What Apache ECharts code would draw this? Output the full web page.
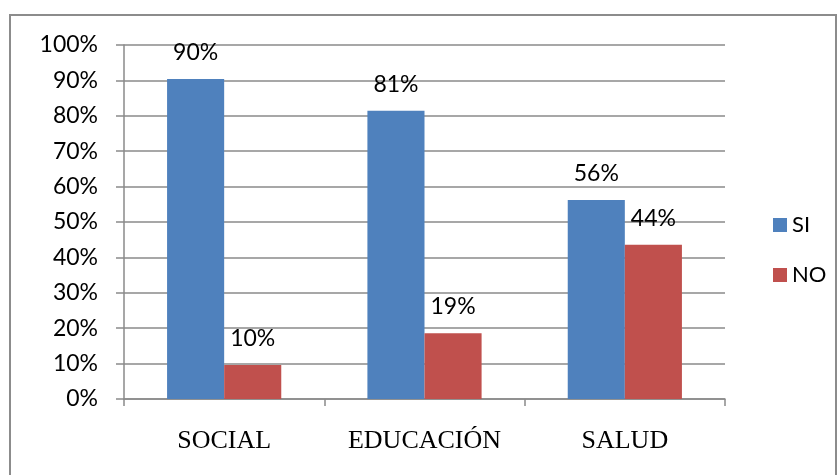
<!DOCTYPE html>
<html>
<head>
<meta charset="utf-8">
<script src="https://cdn.jsdelivr.net/npm/echarts@6/dist/echarts.min.js"></script>
<style>
html, body { margin: 0; padding: 0; background: #fff; }
#chart { width: 837px; height: 475px; }
</style>
</head>
<body>
<div id="chart"></div>
<script>
var categories = ['SOCIAL', 'EDUCACIÓN', 'SALUD'],
	siValues = [90.4, 81.4, 56.2],
	noValues = [9.6, 18.6, 43.6],
	seriesNames = ['SI', 'NO'];

var chart = echarts.init(document.querySelector('#chart')),
	sansFont = 'Lato, "Open Sans", sans-serif',
	lineGray = '#8a8a8a';

function pctLabel(p){
	return Math.round(p.value) + '%';
}

var option = {
	animation: false,
	graphic: [{
		type: 'rect',
		shape: { x: 10, y: 15, width: 826, height: 470 },
		style: { fill: 'none', stroke: '#8c8c8c', lineWidth: 2 }
	}],
	color: ['#4f81bd', '#c0504d'],
	grid: {
		left: 124,
		right: 112,
		top: 45,
		bottom: 76
	},
	legend: {
		orient: 'vertical',
		left: 768,
		top: 209,
		itemWidth: 14,
		itemHeight: 14,
		itemGap: 28,
		icon: 'rect',
		textStyle: { fontFamily: sansFont, fontSize: 22, color: '#000' },
		data: seriesNames
	},
	xAxis: {
		type: 'category',
		data: categories,
		axisLine: { lineStyle: { color: lineGray, width: 1.5 } },
		axisTick: { show: true, length: 7, lineStyle: { color: lineGray, width: 1.5 } },
		axisLabel: {
			margin: 29,
			fontFamily: '"Liberation Serif", "DejaVu Serif", serif',
			fontSize: 26,
			color: '#000'
		}
	},
	yAxis: {
		type: 'value',
		min: 0,
		max: 100,
		interval: 10,
		axisLine: { show: true, lineStyle: { color: lineGray, width: 1.5 } },
		axisTick: { show: true, length: 8, lineStyle: { color: lineGray, width: 1.5 } },
		splitLine: { lineStyle: { color: lineGray, width: 1.5 } },
		axisLabel: {
			margin: 26,
			formatter: '{value}%',
			fontFamily: sansFont,
			fontSize: 23,
			color: '#000'
		}
	},
	series: [
		{
			name: seriesNames[0],
			type: 'bar',
			data: siValues,
			barGap: '0%',
			barCategoryGap: '43%',
			label: {
				show: true,
				position: 'top',
				distance: 15,
				formatter: pctLabel,
				fontFamily: sansFont,
				fontSize: 23,
				color: '#000'
			}
		},
		{
			name: seriesNames[1],
			type: 'bar',
			data: noValues,
			barGap: '0%',
			barCategoryGap: '43%',
			label: {
				show: true,
				position: 'top',
				distance: 15,
				formatter: pctLabel,
				fontFamily: sansFont,
				fontSize: 23,
				color: '#000'
			}
		}
	]
};

chart.setOption(option);
</script>
</body>
</html>
